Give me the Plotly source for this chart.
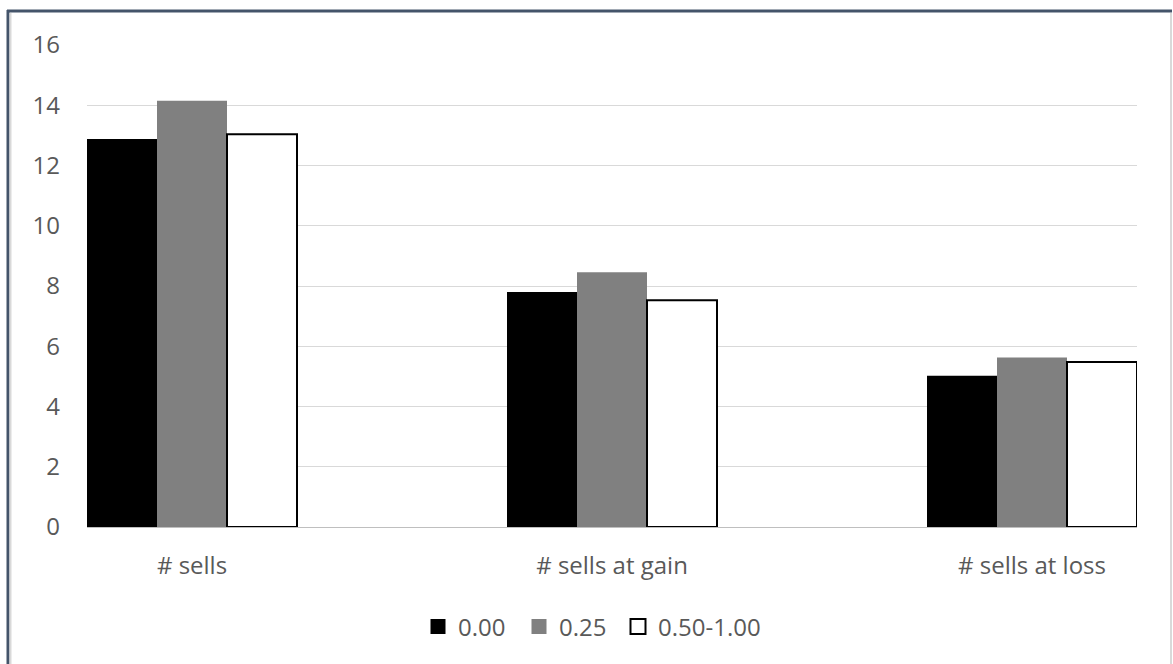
import plotly.graph_objects as go

categories = ["# sells", "# sells at gain", "# sells at loss"]
series_names = ["0.00", "0.25", "0.50-1.00"]
vals_000 = [12.88, 7.80, 5.02]
vals_025 = [14.15, 8.46, 5.63]
vals_050 = [13.04, 7.53, 5.48]

W, H = 1173, 664
ML, MR, MT, MB = 87, 36, 45, 137
PW, PH = W - ML - MR, H - MT - MB

def px_x(px):
    return (px - ML) / PW

def px_y(py):
    return (H - MB - py) / PH

FONT = "Open Sans"
TXT = "#595959"
FS = 24

fills = ["#000000", "#808080", "#ffffff"]
outlines = [dict(width=0), dict(width=0), dict(color="#000000", width=2)]
series_vals = [vals_000, vals_025, vals_050]
legend_ids = ["legend", "legend2", "legend3"]
legend_left_px = [418, 519, 618]

fig = go.Figure()
for name, vals, fill, ol in zip(series_names, series_vals, fills, outlines):
    fig.add_trace(go.Bar(x=categories, y=vals, name=name, showlegend=False,
                         legendgroup=name, marker=dict(color=fill, line=ol)))
# legend swatches as square markers (bar swatches are drawn too small)
for name, fill, ol, lid in zip(series_names, fills, outlines, legend_ids):
    line = dict(color="#000000", width=2) if ol.get("width") else dict(color=fill, width=0)
    fig.add_trace(go.Scatter(x=[None], y=[None], mode="markers", name=name,
                             legendgroup=name, legend=lid,
                             marker=dict(symbol="square", size=15, color=fill, line=line)))

# chart frame: dark left/top edges, light right edge
shapes = [
    dict(type="line", xref="paper", yref="paper", x0=px_x(8), x1=px_x(8),
         y0=px_y(10), y1=px_y(670), line=dict(color="#44546a", width=3)),
    dict(type="line", xref="paper", yref="paper", x0=px_x(7), x1=px_x(1172),
         y0=px_y(11), y1=px_y(11), line=dict(color="#44546a", width=3)),
    dict(type="line", xref="paper", yref="paper", x0=px_x(10.5), x1=px_x(10.5),
         y0=px_y(13), y1=px_y(670), line=dict(color="#d9d9d9", width=2)),
    dict(type="line", xref="paper", yref="paper", x0=px_x(1171), x1=px_x(1171),
         y0=px_y(13), y1=px_y(670), line=dict(color="#d9d9d9", width=2)),
]

legend_common = dict(orientation="h", xanchor="left", y=px_y(627), yanchor="middle",
                     font=dict(family=FONT, size=FS, color=TXT),
                     itemwidth=30, bgcolor="rgba(0,0,0,0)")
legends = {lid: dict(legend_common, x=px_x(lx)) for lid, lx in zip(legend_ids, legend_left_px)}

fig.update_layout(
    width=W, height=H,
    margin=dict(l=ML, r=MR, t=MT, b=MB, pad=0),
    paper_bgcolor="white", plot_bgcolor="white",
    barmode="group", bargap=0.5, bargroupgap=0,
    font=dict(family=FONT, size=FS, color=TXT),
    showlegend=True,
    xaxis=dict(type="category", range=[-0.25, 2.25], showgrid=False,
               showline=True, linecolor="#bfbfbf", linewidth=1,
               ticks="", ticklabelstandoff=17,
               tickfont=dict(family=FONT, size=FS, color=TXT)),
    yaxis=dict(range=[0, 16], dtick=2, showgrid=True, gridcolor="#d9d9d9",
               gridwidth=1, zeroline=False, showline=False, ticks="",
               ticklabelstandoff=26,
               tickfont=dict(family=FONT, size=FS, color=TXT)),
    shapes=shapes,
    **legends,
)

fig.write_html("out.html")
